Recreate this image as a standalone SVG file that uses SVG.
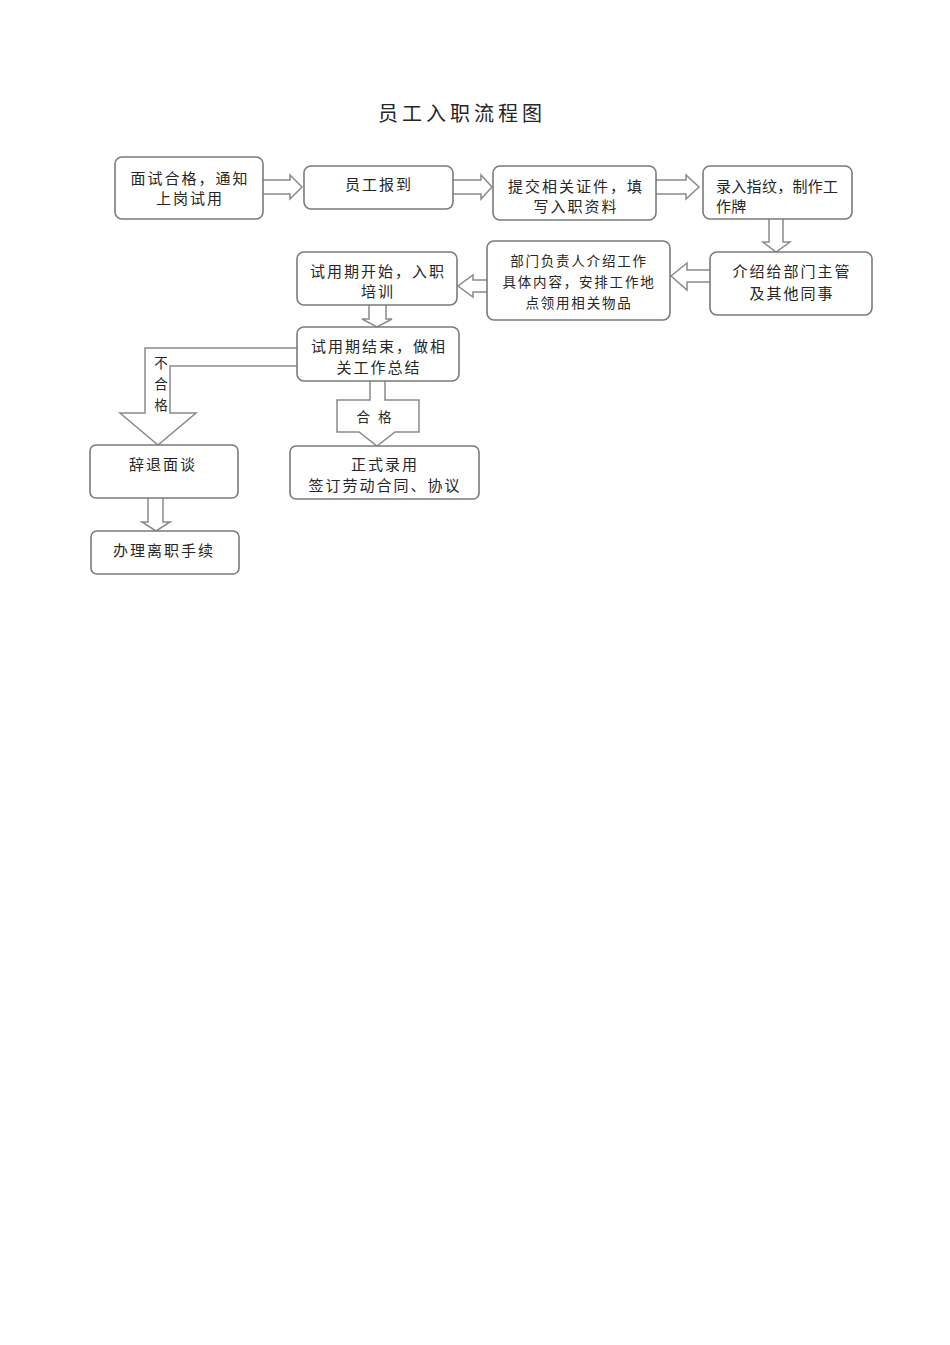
<svg xmlns="http://www.w3.org/2000/svg" width="950" height="1345" viewBox="0 0 950 1345">
<style>
.box{fill:#fff;stroke:#7a7a7a;stroke-width:1.6}
.arr{fill:#fff;stroke:#8a8a8a;stroke-width:1.5;stroke-linejoin:miter}
.t{font-family:"Noto Sans CJK SC","Noto Sans",sans-serif;font-size:15px;fill:#262626;text-anchor:middle;letter-spacing:2px;dominant-baseline:central}
.s{font-size:13.5px;letter-spacing:1.8px}
.title{font-family:"Noto Sans CJK SC","Noto Sans",sans-serif;font-size:20px;fill:#262626;text-anchor:middle;letter-spacing:4px;dominant-baseline:central}
</style>
<rect width="950" height="1345" fill="#fff"/>
<text class="title" x="462" y="112">员工入职流程图</text>
<g id="connectors">
<path class="arr" d="M263,180 H290 V175 L302,187 L290,199 V194 H263"/>
<path class="arr" d="M453,180 H481 V175 L492,187 L481,199 V194 H453"/>
<path class="arr" d="M656,180 H686 V175 L699,187 L686,199 V194 H656"/>
<path class="arr" d="M769,219 V242 H763 L776,252 L790,242 H783 V219"/>
<path class="arr" d="M710,270 H687 V263 L671,276 L687,290 V282 H710"/>
<path class="arr" d="M487,280 H473 V275 L458,286 L473,297 V292 H487"/>
<path class="arr" d="M369,305 V319 H362 L377,327 L392,319 H386 V305"/>
<path class="arr" d="M297,348 H145 V413 H120 L158,445 L196,413 H170 V366 H297"/>
<path class="arr" d="M370,381 V400 H337 V432 H359 L377,446 L395,432 H419 V400 H385 V381"/>
<path class="arr" d="M148,498 V522 H142 L156,531 L170,522 H163 V498"/>
<text class="t s" x="162" y="362">不</text>
<text class="t s" x="162" y="383">合</text>
<text class="t s" x="162" y="404">格</text>
<text class="t s" x="378" y="416" style="letter-spacing:8px">合格</text>
</g>
<g id="n1">
<rect class="box" x="115" y="157" width="148" height="62" rx="7"/>
<text class="t" x="190" y="177">面试合格，通知</text>
<text class="t" x="190" y="197">上岗试用</text>
</g>
<g id="n2">
<rect class="box" x="304" y="166" width="149" height="43" rx="7"/>
<text class="t" x="379" y="183">员工报到</text>
</g>
<g id="n3">
<rect class="box" x="493" y="166" width="163" height="54" rx="7"/>
<text class="t" x="576" y="185">提交相关证件，填</text>
<text class="t" x="576" y="205">写入职资料</text>
</g>
<g id="n4">
<rect class="box" x="703" y="166" width="149" height="53" rx="7"/>
<text class="t" x="716" y="185" style="text-anchor:start;letter-spacing:0.3px">录入指纹，制作工</text>
<text class="t" x="716" y="205" style="text-anchor:start;letter-spacing:0.3px">作牌</text>
</g>
<g id="n5">
<rect class="box" x="710" y="252" width="162" height="63" rx="7"/>
<text class="t" x="792" y="270">介绍给部门主管</text>
<text class="t" x="792" y="292">及其他同事</text>
</g>
<g id="n6">
<rect class="box" x="487" y="241" width="183" height="79" rx="7"/>
<text class="t s" x="579" y="260">部门负责人介绍工作</text>
<text class="t s" x="579" y="281">具体内容，安排工作地</text>
<text class="t s" x="579" y="302">点领用相关物品</text>
</g>
<g id="n7">
<rect class="box" x="297" y="252" width="160" height="53" rx="7"/>
<text class="t" x="378" y="270">试用期开始，入职</text>
<text class="t" x="378" y="290">培训</text>
</g>
<g id="n8">
<rect class="box" x="297" y="327" width="162" height="54" rx="7"/>
<text class="t" x="379" y="345">试用期结束，做相</text>
<text class="t" x="379" y="366">关工作总结</text>
</g>
<g id="n9">
<rect class="box" x="90" y="445" width="148" height="53" rx="6"/>
<text class="t" x="163" y="463">辞退面谈</text>
</g>
<g id="n10">
<rect class="box" x="290" y="446" width="189" height="53" rx="6"/>
<text class="t" x="385" y="463">正式录用</text>
<text class="t" x="385" y="484">签订劳动合同、协议</text>
</g>
<g id="n11">
<rect class="box" x="91" y="531" width="148" height="43" rx="6"/>
<text class="t" x="164" y="549">办理离职手续</text>
</g>
</svg>
